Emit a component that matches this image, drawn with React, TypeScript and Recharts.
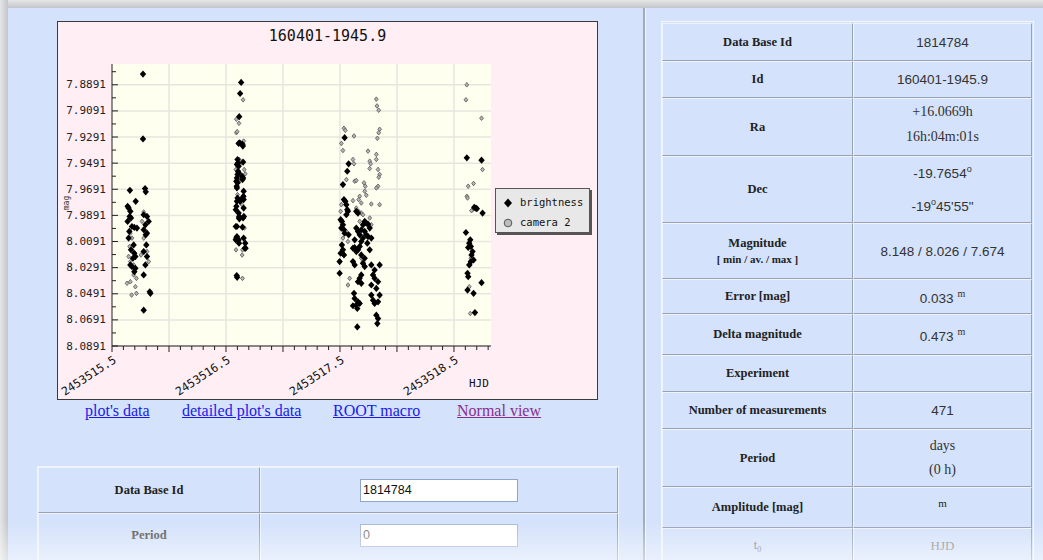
import React from 'react'
import { ScatterChart, Scatter, XAxis, YAxis, ReferenceLine, CartesianGrid } from 'recharts'

// [HJD, magnitude]
const brightness: [number, number][] = [
  [2453515.772, 7.8809], [2453515.772, 7.9306], [2453515.657, 7.9699], [2453515.708, 7.9783],
  [2453515.79, 7.9686], [2453515.796, 7.9711], [2453515.637, 7.9822], [2453515.646, 7.9835],
  [2453515.661, 7.986], [2453515.655, 7.9899], [2453515.667, 7.9911], [2453515.637, 7.9937],
  [2453515.675, 7.9976], [2453515.652, 8.0014], [2453515.646, 8.0065], [2453515.696, 7.9983],
  [2453515.719, 7.9988], [2453515.778, 7.9886], [2453515.807, 7.9899], [2453515.822, 7.9937],
  [2453515.793, 7.9963], [2453515.778, 8.0001], [2453515.807, 8.0027], [2453515.796, 8.004],
  [2453515.69, 8.0117], [2453515.667, 8.0155], [2453515.696, 8.0181], [2453515.705, 8.0206],
  [2453515.684, 8.0219], [2453515.661, 8.027], [2453515.675, 8.0283], [2453515.705, 8.0296],
  [2453515.696, 8.0322], [2453515.801, 8.0117], [2453515.778, 8.0168], [2453515.807, 8.0206],
  [2453515.793, 8.027], [2453515.778, 8.0347], [2453515.831, 8.0476], [2453515.837, 8.0488],
  [2453515.778, 8.0617],
  [2453516.633, 7.8873], [2453516.624, 7.8958], [2453516.616, 7.9135], [2453516.621, 7.9335],
  [2453516.611, 7.934], [2453516.645, 7.9347], [2453516.648, 7.936], [2453516.601, 7.9463],
  [2453516.606, 7.9489], [2453516.596, 7.9501], [2453516.611, 7.9514], [2453516.65, 7.9483],
  [2453516.606, 7.9553], [2453516.611, 7.9565], [2453516.601, 7.9578], [2453516.596, 7.9604],
  [2453516.591, 7.9629], [2453516.601, 7.9642], [2453516.594, 7.9668], [2453516.596, 7.9681],
  [2453516.64, 7.9591], [2453516.645, 7.9617], [2453516.65, 7.9604], [2453516.655, 7.9706],
  [2453516.653, 7.9745], [2453516.645, 7.9758], [2453516.655, 7.977], [2453516.624, 7.9783],
  [2453516.601, 7.9758], [2453516.596, 7.9783], [2453516.591, 7.9822], [2453516.586, 7.9847],
  [2453516.611, 7.9873], [2453516.616, 7.9899], [2453516.614, 7.9911], [2453516.618, 7.9917],
  [2453516.655, 7.9835], [2453516.657, 7.9899], [2453516.65, 7.9911], [2453516.586, 7.9976],
  [2453516.596, 7.9976], [2453516.645, 7.9981], [2453516.591, 8.0065], [2453516.596, 8.0053],
  [2453516.586, 8.0078], [2453516.611, 8.0078], [2453516.614, 8.0104], [2453516.655, 8.0065],
  [2453516.669, 8.0104], [2453516.672, 8.0142], [2453516.665, 8.0142], [2453516.594, 8.0352],
  [2453516.598, 8.0365],
  [2453517.541, 7.9296], [2453517.576, 7.9496], [2453517.564, 7.9553], [2453517.526, 7.9655],
  [2453517.535, 7.977], [2453517.547, 7.9783], [2453517.556, 7.9809], [2453517.564, 7.9847],
  [2453517.57, 7.986], [2453517.556, 7.9886], [2453517.506, 7.9924], [2453517.517, 7.9937],
  [2453517.526, 7.9963], [2453517.512, 7.9988], [2453517.535, 8.0001], [2453517.541, 8.0027],
  [2453517.576, 8.004], [2453517.517, 8.0117], [2453517.526, 8.0155], [2453517.506, 8.0181],
  [2453517.497, 8.0245], [2453517.535, 8.0194], [2453517.497, 8.0334], [2453517.643, 7.986],
  [2453517.658, 7.9873], [2453517.717, 7.9937], [2453517.731, 7.995], [2453517.702, 7.9963],
  [2453517.746, 7.9958], [2453517.761, 7.9988], [2453517.687, 8.0001], [2453517.717, 8.0014],
  [2453517.731, 8.004], [2453517.746, 8.0053], [2453517.702, 8.0065], [2453517.687, 8.0091],
  [2453517.775, 8.0065], [2453517.74, 8.0104], [2453517.643, 7.9988], [2453517.658, 8.0014],
  [2453517.673, 8.004], [2453517.629, 8.0078], [2453517.614, 8.0142], [2453517.629, 8.0137],
  [2453517.643, 8.0168], [2453517.658, 8.0155], [2453517.673, 8.0129], [2453517.687, 8.0194],
  [2453517.717, 8.0219], [2453517.761, 8.0155], [2453517.614, 8.0245], [2453517.629, 8.027],
  [2453517.702, 8.0258], [2453517.717, 8.0283], [2453517.775, 8.027], [2453517.804, 8.0309],
  [2453517.848, 8.027], [2453517.79, 8.0347], [2453517.687, 8.0347], [2453517.673, 8.0373],
  [2453517.658, 8.0399], [2453517.687, 8.0411], [2453517.775, 8.0424], [2453517.804, 8.0373],
  [2453517.834, 8.0399], [2453517.819, 8.045], [2453517.623, 8.0488], [2453517.629, 8.0527],
  [2453517.658, 8.0553], [2453517.643, 8.0578], [2453517.673, 8.0565], [2453517.614, 8.0583],
  [2453517.652, 8.0604], [2453517.775, 8.0501], [2453517.79, 8.054], [2453517.804, 8.0565],
  [2453517.848, 8.0501], [2453517.834, 8.0553], [2453517.819, 8.0655], [2453517.834, 8.0681],
  [2453517.828, 8.0719], [2453517.652, 8.0745],
  [2453518.613, 7.945], [2453518.742, 7.9468], [2453518.678, 7.9829], [2453518.692, 7.9835],
  [2453518.701, 7.984], [2453518.751, 7.9873], [2453518.605, 8.0022], [2453518.643, 8.0078],
  [2453518.634, 8.0104], [2453518.625, 8.0137], [2453518.648, 8.0129], [2453518.663, 8.0168],
  [2453518.654, 8.0194], [2453518.672, 8.0232], [2453518.648, 8.0245], [2453518.634, 8.027],
  [2453518.619, 8.0334], [2453518.625, 8.036], [2453518.619, 8.0463], [2453518.672, 8.0488],
  [2453518.742, 8.0406], [2453518.684, 8.0635],
]

const camera2: [number, number][] = [
  [2453515.778, 7.9865], [2453515.763, 7.9937], [2453515.661, 8.0027], [2453515.675, 8.0065],
  [2453515.655, 8.0129], [2453515.646, 8.0206], [2453515.661, 8.0245], [2453515.69, 8.027],
  [2453515.632, 8.0411], [2453515.661, 8.0399], [2453515.714, 8.0373], [2453515.705, 8.0437],
  [2453515.672, 8.0501], [2453515.714, 8.0488], [2453515.778, 8.0065], [2453515.807, 8.0168],
  [2453515.822, 8.0245], [2453515.754, 8.0194], [2453515.69, 8.0347],
  [2453516.65, 7.9006], [2453516.591, 7.9155], [2453516.614, 7.9186], [2453516.591, 7.9258],
  [2453516.598, 7.925], [2453516.608, 7.934], [2453516.655, 7.9322], [2453516.616, 7.9463],
  [2453516.621, 7.9501], [2453516.586, 7.954], [2453516.66, 7.954], [2453516.669, 7.9573],
  [2453516.621, 7.9629], [2453516.606, 7.9629], [2453516.64, 7.9809], [2453516.662, 7.9988],
  [2453516.588, 8.0155], [2453516.645, 8.0155], [2453516.642, 8.0194], [2453516.645, 8.0373],
  [2453516.601, 7.9732],
  [2453517.819, 7.9001], [2453517.825, 7.9053], [2453517.84, 7.9086], [2453517.535, 7.9224],
  [2453517.547, 7.924], [2453517.848, 7.9232], [2453517.84, 7.9258], [2453517.512, 7.934],
  [2453517.623, 7.9283], [2453517.526, 7.9394], [2453517.828, 7.9301], [2453517.746, 7.9399],
  [2453517.819, 7.9424], [2453517.614, 7.9463], [2453517.623, 7.9496], [2453517.761, 7.9476],
  [2453517.769, 7.9496], [2453517.761, 7.9532], [2453517.819, 7.9463], [2453517.834, 7.954],
  [2453517.848, 7.9578], [2453517.84, 7.9599], [2453517.556, 7.9617], [2453517.629, 7.9629],
  [2453517.643, 7.9624], [2453517.711, 7.9642], [2453517.722, 7.9668], [2453517.717, 7.9706],
  [2453517.834, 7.9668], [2453517.819, 7.9681], [2453517.673, 7.9745], [2453517.664, 7.977],
  [2453517.614, 7.9778], [2453517.687, 7.9796], [2453517.775, 7.9804], [2453517.848, 7.9809],
  [2453517.512, 7.9809], [2453517.506, 7.986], [2453517.664, 7.986], [2453517.687, 7.9873],
  [2453517.702, 7.9886], [2453517.731, 7.9737], [2453517.526, 8.0065], [2453517.57, 8.0091],
  [2453517.556, 8.0014], [2453517.687, 8.0219], [2453517.702, 8.0245], [2453517.585, 8.0373],
  [2453517.57, 8.0424], [2453517.673, 7.9937], [2453517.761, 7.9911], [2453517.775, 7.9963],
  [2453517.643, 7.9835],
  [2453518.613, 7.8891], [2453518.605, 7.9006], [2453518.742, 7.9147], [2453518.751, 7.954],
  [2453518.625, 7.9668], [2453518.672, 7.9647], [2453518.613, 7.9745], [2453518.619, 7.9758],
  [2453518.663, 7.9847], [2453518.654, 7.9855], [2453518.634, 8.0437], [2453518.643, 8.0642],
  [2453518.643, 8.027], [2453518.648, 8.0219],
]

const yMajorTicks = [7.8891, 7.9091, 7.9291, 7.9491, 7.9691, 7.9891, 8.0091, 8.0291, 8.0491, 8.0691, 8.0891]
const yMinorTicks = [7.8791, 7.8991, 7.9191, 7.9391, 7.9591, 7.9791, 7.9991, 8.0191, 8.0391, 8.0591, 8.0791]
const xTicks = [
  2453515.5, 2453515.6, 2453515.7, 2453515.8, 2453515.9, 2453516.0, 2453516.1, 2453516.2,
  2453516.3, 2453516.4, 2453516.5, 2453516.6, 2453516.7, 2453516.8, 2453516.9, 2453517.0,
  2453517.1, 2453517.2, 2453517.3, 2453517.4, 2453517.5, 2453517.6, 2453517.7, 2453517.8,
  2453517.9, 2453518.0, 2453518.1, 2453518.2, 2453518.3, 2453518.4, 2453518.5, 2453518.6,
  2453518.7, 2453518.8,
]
const xLabelTicks = [2453515.5, 2453516.5, 2453517.5, 2453518.5]
const xGridTicks = [2453516.0, 2453516.5, 2453517.0, 2453517.5, 2453518.0, 2453518.5]

const brightnessData = brightness.map(([x, y]) => ({ x, y }))
const camera2Data = camera2.map(([x, y]) => ({ x, y }))

const BG = '#D4E2FB'
const MONO = '"DejaVu Sans Mono", monospace'
const SERIF = '"Liberation Serif", "Times New Roman", serif'
const SANS = '"Liberation Sans", Arial, sans-serif'

const has = (list: number[], v: number) => list.some((t) => Math.abs(t - v) < 1e-6)

function YTick(props: any) {
  const { x, y, payload } = props
  const major = has(yMajorTicks, payload.value)
  return (
    <g>
      <line x1={x} y1={y} x2={x + (major ? 6 : 4)} y2={y} stroke="#222" />
      {major && (
        <text x={x - 6} y={y} textAnchor="end" dominantBaseline="central" fontFamily={MONO} fontSize={11} fill="#222">
          {payload.value.toFixed(4)}
        </text>
      )}
    </g>
  )
}

function XTick(props: any) {
  const { x, y, payload } = props
  const half = has(xGridTicks, payload.value) || has(xLabelTicks, payload.value)
  const labelled = has(xLabelTicks, payload.value)
  const tx = x + 5
  const ty = y + 16
  return (
    <g>
      <line x1={x} y1={y} x2={x} y2={y + (half ? 6 : 4)} stroke="#222" />
      {labelled && (
        <text x={tx} y={ty} textAnchor="end" transform={`rotate(-33 ${tx} ${ty})`} fontFamily={MONO} fontSize={11.5} fill="#111">
          {payload.value.toFixed(1)}
        </text>
      )}
    </g>
  )
}

function BrightMarker(props: any) {
  const { cx, cy } = props
  return <polygon points={`${cx},${cy - 3.6} ${cx + 3.2},${cy} ${cx},${cy + 3.6} ${cx - 3.2},${cy}`} fill="#000" />
}

function CameraMarker(props: any) {
  const { cx, cy } = props
  return (
    <polygon
      points={`${cx},${cy - 2.3} ${cx + 1.9},${cy} ${cx},${cy + 2.3} ${cx - 1.9},${cy}`}
      fill="#b4b4b4"
      stroke="#555"
      strokeWidth={0.8}
    />
  )
}

function LightCurve() {
  return (
    <div style={{ position: 'absolute', left: 57, top: 21, width: 541, height: 379, background: '#FFEEF4', boxShadow: 'inset 0 0 0 1px #3a3a3a' }}>
      <div style={{ position: 'absolute', left: 0, top: 6, width: 541, textAlign: 'center', fontFamily: MONO, fontSize: 15, lineHeight: '18px', color: '#111' }}>
        160401-1945.9
      </div>
      <ScatterChart width={541} height={379} margin={{ top: 43, right: 107, bottom: 0, left: 0 }}>
        <CartesianGrid fill="#FFFFF0" horizontal={false} vertical={false} stroke="none" />
        {yMajorTicks.map((v) => (
          <ReferenceLine key={'h' + v} y={v} stroke="#e6e6df" strokeWidth={1.5} />
        ))}
        {xGridTicks.map((v) => (
          <ReferenceLine key={'v' + v} x={v} stroke="#e6e6df" strokeWidth={1.5} />
        ))}
        <XAxis
          type="number"
          dataKey="x"
          domain={[2453515.5, 2453518.825]}
          allowDataOverflow
          ticks={xTicks}
          interval={0}
          tick={(p: any) => <XTick {...p} />}
          tickSize={0}
          tickMargin={0}
          tickLine={false}
          axisLine={{ stroke: '#222' }}
          height={54}
        />
        <YAxis
          type="number"
          dataKey="y"
          domain={[7.8732, 8.0891]}
          reversed
          allowDataOverflow
          ticks={[...yMajorTicks, ...yMinorTicks]}
          interval={0}
          tick={(p: any) => <YTick {...p} />}
          tickSize={0}
          tickMargin={0}
          tickLine={false}
          axisLine={{ stroke: '#222' }}
          width={55}
        />
        <Scatter data={camera2Data} shape={CameraMarker} isAnimationActive={false} />
        <Scatter data={brightnessData} shape={BrightMarker} isAnimationActive={false} />
      </ScatterChart>
      <div style={{ position: 'absolute', left: 412, top: 356, fontFamily: MONO, fontSize: 11, color: '#111' }}>HJD</div>
      <div style={{ position: 'absolute', left: 0, top: 177, width: 20, textAlign: 'center', fontFamily: MONO, fontSize: 8, lineHeight: '10px', color: '#333', transform: 'rotate(-90deg)' }}>
        mag
      </div>
      <div style={{ position: 'absolute', left: 438, top: 167, width: 93, height: 43, background: '#E8E8E8', border: '1px solid #555', boxShadow: '2px 2px 0 #555', fontFamily: MONO, fontSize: 10.5, color: '#111' }}>
        <svg width={20} height={43} style={{ position: 'absolute', left: 2, top: 0 }}>
          <polygon points="10,9.5 14,14 10,18.5 6,14" fill="#000" />
          <circle cx={10} cy={34} r={3.8} fill="#bdbdbd" stroke="#555" strokeWidth={1} />
        </svg>
        <div style={{ position: 'absolute', left: 24, top: 7 }}>brightness</div>
        <div style={{ position: 'absolute', left: 24, top: 27 }}>camera 2</div>
      </div>
    </div>
  )
}

const linkStyle: React.CSSProperties = {
  position: 'absolute',
  top: 402,
  fontFamily: SERIF,
  fontSize: 16,
  lineHeight: '18px',
  textDecoration: 'underline',
  color: '#1a1aee',
  whiteSpace: 'nowrap',
}

const val: React.CSSProperties = { fontFamily: SANS, fontSize: 13.5, color: '#333' }

const rows = [
  { top: 23, bottom: 61, label: <b>Data Base Id</b>, value: <span style={val}>1814784</span> },
  { top: 61, bottom: 98, label: <b>Id</b>, value: <span style={val}>160401-1945.9</span> },
  {
    top: 98, bottom: 156, label: <b>Ra</b>,
    value: <div style={{ fontFamily: SERIF, fontSize: 14, color: '#333', lineHeight: '25px', paddingBottom: 6 }}>+16.0669h<br />16h:04m:01s</div>,
  },
  {
    top: 156, bottom: 223, label: <b>Dec</b>,
    value: (
      <div style={{ ...val, lineHeight: '28px', paddingBottom: 4 }}>
        -19.7654<sup style={{ fontSize: 9 }}>o</sup><br />-19<sup style={{ fontSize: 9 }}>o</sup>45'55"
      </div>
    ),
  },
  {
    top: 223, bottom: 279,
    label: <div style={{ lineHeight: '16px' }}><b>Magnitude</b><br /><b style={{ fontSize: 11 }}>[ min / av. / max ]</b></div>,
    value: <span style={val}>8.148 / 8.026 / 7.674</span>,
  },
  { top: 279, bottom: 314, label: <b>Error [mag]</b>, value: <span style={val}>0.033 <sup style={{ fontFamily: SERIF, fontSize: 10 }}>m</sup></span> },
  { top: 314, bottom: 355, label: <b>Delta magnitude</b>, value: <span style={val}>0.473 <sup style={{ fontFamily: SERIF, fontSize: 10 }}>m</sup></span> },
  { top: 355, bottom: 392, label: <b>Experiment</b>, value: <span /> },
  { top: 392, bottom: 429, label: <b>Number of measurements</b>, value: <span style={val}>471</span> },
  { top: 429, bottom: 487, label: <b>Period</b>, value: <div style={{ fontFamily: SERIF, fontSize: 14, color: '#333', lineHeight: '24px' }}>days<br />(0 h)</div> },
  { top: 487, bottom: 528, label: <b>Amplitude [mag]</b>, value: <span style={{ fontFamily: SERIF, fontSize: 11, paddingBottom: 10 }}>m</span> },
]

const cell: React.CSSProperties = {
  position: 'absolute',
  boxSizing: 'border-box',
  display: 'flex',
  alignItems: 'center',
  justifyContent: 'center',
  textAlign: 'center',
  borderRight: '1px solid #98a2b3',
  borderBottom: '1px solid #98a2b3',
  borderTop: '1px solid #eef3fd',
  borderLeft: '1px solid #eef3fd',
  color: '#222',
}

export default function App() {
  return (
    <div style={{ position: 'absolute', left: 0, top: 0, width: 1043, height: 560, overflow: 'hidden', background: BG, fontFamily: SERIF }}>
      <div style={{ position: 'absolute', left: 0, top: 0, width: 1043, height: 8, background: 'linear-gradient(#e6e6e6, #c3c5ca)' }} />
      <div style={{ position: 'absolute', left: 0, top: 0, width: 8, height: 560, background: 'linear-gradient(90deg, #e6e6e6, #c3c5ca)' }} />
      <div style={{ position: 'absolute', left: 643, top: 8, width: 2, height: 552, background: '#a3abb8' }} />
      <div style={{ position: 'absolute', left: 645, top: 8, width: 1, height: 552, background: '#eef3fd' }} />

      <LightCurve />

      <div style={{ ...linkStyle, left: 85 }}>plot's data</div>
      <div style={{ ...linkStyle, left: 182 }}>detailed plot's data</div>
      <div style={{ ...linkStyle, left: 333 }}>ROOT macro</div>
      <div style={{ ...linkStyle, left: 457, color: '#8a2d8e' }}>Normal view</div>

      {/* lower left form */}
      <div style={{ position: 'absolute', left: 37, top: 466, width: 582, height: 110, border: '1px solid #eef3fd', boxSizing: 'border-box' }} />
      <div style={{ ...cell, left: 38, top: 467, width: 222, height: 46, fontSize: 12.5 }}><b>Data Base Id</b></div>
      <div style={{ ...cell, left: 260, top: 467, width: 358, height: 46 }} />
      <div style={{ ...cell, left: 38, top: 513, width: 222, height: 60, fontSize: 12.5, color: '#555', alignItems: 'flex-start', paddingTop: 14 }}><b>Period</b></div>
      <div style={{ ...cell, left: 260, top: 513, width: 358, height: 60 }} />
      <div style={{ position: 'absolute', left: 360, top: 479, width: 158, height: 23, boxSizing: 'border-box', background: '#fff', border: '1px solid #8fa7c4', fontFamily: SANS, fontSize: 12.5, lineHeight: '21px', paddingLeft: 2, color: '#111' }}>1814784</div>
      <div style={{ position: 'absolute', left: 360, top: 524, width: 158, height: 23, boxSizing: 'border-box', background: '#fff', border: '1px solid #a9bbd2', fontFamily: SANS, fontSize: 12.5, lineHeight: '21px', paddingLeft: 2, color: '#777' }}>0</div>

      {/* right info table */}
      <div style={{ position: 'absolute', left: 661, top: 21, width: 373, height: 560, border: '1px solid #f2f6fe', boxSizing: 'border-box' }} />
      {rows.map((r) => (
        <React.Fragment key={r.top}>
          <div style={{ ...cell, left: 662, top: r.top, width: 191, height: r.bottom - r.top, fontSize: 12.5 }}>{r.label}</div>
          <div style={{ ...cell, left: 853, top: r.top, width: 179, height: r.bottom - r.top, fontSize: 12.5 }}>{r.value}</div>
        </React.Fragment>
      ))}
      <div style={{ ...cell, left: 662, top: 528, width: 191, height: 52, alignItems: 'flex-start', paddingTop: 9 }}>
        <span style={{ color: '#777', fontFamily: SERIF, fontSize: 12 }}>t<sub style={{ fontSize: 8 }}>0</sub></span>
      </div>
      <div style={{ ...cell, left: 853, top: 528, width: 179, height: 52, alignItems: 'flex-start', paddingTop: 9 }}>
        <span style={{ color: '#888', fontFamily: SERIF, fontSize: 13 }}>HJD</span>
      </div>

      <div style={{ position: 'absolute', left: 0, top: 522, width: 1043, height: 38, background: 'linear-gradient(rgba(255,255,255,0), rgba(255,255,255,0.5))' }} />
    </div>
  )
}
